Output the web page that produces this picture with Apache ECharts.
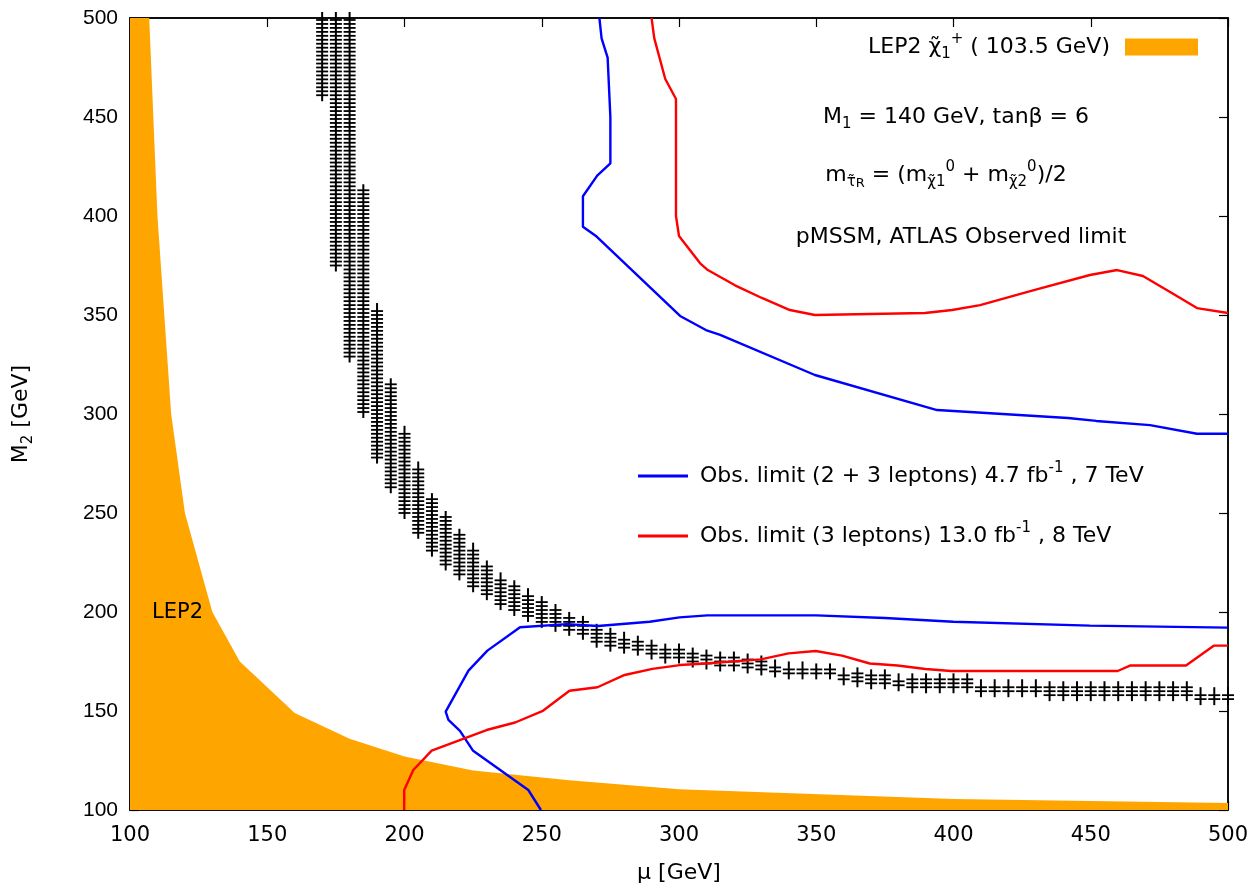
<!DOCTYPE html>
<html>
<head>
<meta charset="utf-8">
<script src="https://cdn.jsdelivr.net/npm/echarts@6/dist/echarts.min.js"></script>
<style>
    html, body { margin: 0; padding: 0; background: #fff; }
    #chart { width: 1255px; height: 888px; }
</style>
</head>
<body>
<div id="chart"></div>
<script>
// LEP2 chargino limit, edge of the excluded region (mu, M2)
var lepMu = [100, 107, 110, 115, 120, 130, 140, 160, 180, 200, 225, 260, 300, 400, 450, 500];
var lepM2 = [500, 500, 400, 300, 250, 200, 175, 149, 136, 127, 120, 115, 110.5, 105.5, 104.5, 103.5];

// Obs. limit 2+3 leptons, 7 TeV (two branches)
var blueUpMu = [271, 271.8, 274, 275, 275, 270.2, 265, 265, 270, 300.4, 309.8, 315, 349.5, 394, 400, 441.7, 452, 471.6, 488.7, 500];
var blueUpM2 = [500, 489.7, 480, 450, 426.6, 420.4, 410, 394.6, 389.6, 349.5, 342.4, 340, 319.7, 302, 301.5, 298, 296.5, 294.4, 290, 290];
var blueLoMu = [249.7, 245.1, 225, 220.2, 216, 215, 223.3, 230.2, 242.1, 259.1, 270.5, 289.3, 300.2, 310.3, 350, 375, 399.9, 449.7, 500];
var blueLoM2 = [100, 110.1, 129.9, 140, 145.5, 149.7, 170.4, 180.5, 192.3, 193.9, 192.9, 195.1, 197.3, 198.3, 198.3, 197, 195.1, 193.1, 192.1];

// Obs. limit 3 leptons, 8 TeV (two branches)
var redUpMu = [290, 291, 295, 298.9, 298.9, 300, 307.7, 310.5, 320.4, 330.2, 340.4, 349.5, 389.6, 399.5, 409.7, 429.3, 449.7, 459.6, 469, 478.9, 488.7, 500];
var redUpM2 = [500, 489.7, 469.2, 459.1, 400, 389.9, 376.1, 372.7, 365, 358.6, 352.5, 350, 351, 352.5, 355, 362.6, 370.2, 372.7, 369.7, 361.6, 353.5, 351];
var redLoMu = [199.9, 199.9, 203.2, 209.9, 229.9, 240.3, 250.2, 260.1, 270.3, 280.2, 290.3, 300.3, 309.6, 329.8, 339.9, 349.8, 359.4, 369.5, 379.6, 389.8, 399.1, 459.8, 464.5, 484.7, 494.8, 500];
var redLoM2 = [100, 110.1, 120.2, 130, 140.4, 144.2, 149.9, 160.2, 162, 168.2, 171.3, 173.2, 174, 176.1, 179.1, 180.3, 178, 174, 173, 171.2, 170.2, 170.2, 173, 173, 183, 183];

// scanned model points: one column per mu, points every bandStep GeV from low to high
var bandStep = 2;
var bandMu = [170, 175, 180, 185, 190, 195, 200, 205, 210, 215, 220, 225, 230, 235, 240, 245, 250, 255, 260, 265,
    270, 275, 280, 285, 290, 295, 300, 305, 310, 315, 320, 325, 330, 335, 340, 345, 350, 355, 360, 365,
    370, 375, 380, 385, 390, 395, 400, 405, 410, 415, 420, 425, 430, 435, 440, 445, 450, 455, 460, 465,
    470, 475, 480, 485, 490, 495, 500];
var bandLow = [461, 375, 329, 301, 278, 263, 250, 240, 231, 224, 219, 213, 209, 204, 201, 198, 195, 193, 191, 189,
    185, 183, 182, 181, 179, 177, 177, 175, 174, 173, 173, 172, 171, 170, 169, 169, 169, 169, 166, 165,
    164, 164, 163, 162, 162, 162, 162, 162, 160, 160, 160, 160, 160, 158, 158, 158, 158, 158, 158, 158,
    158, 158, 158, 158, 156, 156, 156];
var bandHigh = [500, 500, 500, 413, 353, 315, 291, 273, 257, 248, 239, 232, 223, 217, 213, 209, 205, 201, 197, 195,
    191, 189, 187, 185, 183, 181, 181, 179, 178, 177, 177, 176, 175, 173, 172, 172, 171, 171, 169, 169,
    168, 168, 166, 166, 166, 166, 166, 166, 163, 163, 163, 163, 163, 162, 162, 162, 162, 162, 162, 162,
    162, 162, 162, 162, 159, 159, 159];

var font = "'Liberation Sans', Arial, sans-serif";
var wide = "'DejaVu Sans', sans-serif";
var blueName = "Obs. limit (2 + 3 leptons) 4.7 fb-1 , 7 TeV";
var redName = "Obs. limit (3 leptons) 13.0 fb-1 , 8 TeV";
var lepName = "LEP2";

function pairs(xs, ys) {
    return xs.map(function (x, i) { return [x, ys[i]]; });
}

var richText = {
    a: { fontSize: 22, fontFamily: wide, color: "#000", lineHeight: 30 },
    s: { fontSize: 15, fontFamily: wide, color: "#000", lineHeight: 15, verticalAlign: "bottom" },
    ss: { fontSize: 13, fontFamily: wide, color: "#000", lineHeight: 4, verticalAlign: "bottom" },
    p: { fontSize: 15, fontFamily: wide, color: "#000", lineHeight: 18, verticalAlign: "top" },
};

var chart = echarts.init(document.getElementById("chart"));

function axisBase(extra) {
    var base = {
        type: "value",
        min: 100,
        max: 500,
        interval: 50,
        axisLine: { show: true, onZero: false, lineStyle: { color: "#000", width: 1.5 } },
        axisTick: { show: true, inside: true, length: 9, lineStyle: { color: "#000", width: 1.2 } },
        splitLine: { show: false },
        axisLabel: { show: false },
    };
    return Object.assign(base, extra);
}

function lineSeries(name, xs, ys, color) {
    return {
        name: name,
        type: "line",
        data: pairs(xs, ys),
        symbol: "none",
        z: 5,
        color: color,
        lineStyle: { color: color, width: 2.4 },
    };
}

var options = {
    animation: false,
    backgroundColor: "#fff",
    textStyle: { fontFamily: font },
    grid: {
        left: 130,
        right: 27,
        top: 18,
        bottom: 78,
        outerBoundsMode: "none",
        containLabel: false,
        show: true,
        borderColor: "#000",
        borderWidth: 1.5,
    },
    legend: [
        {
            data: [lepName],
            right: 57,
            top: 32,
            padding: 0,
            align: "right",
            icon: "rect",
            itemWidth: 73,
            itemHeight: 17,
            formatter: function () {
                return "{a|LEP2 χ̃}{s|1}{p|+}{a| ( 103.5 GeV)}";
            },
            textStyle: { rich: richText, padding: [0, 10, 0, 0] },
        },
        {
            data: [blueName, redName],
            left: 638,
            top: 461,
            padding: 0,
            orient: "vertical",
            icon: "rect",
            itemWidth: 50,
            itemHeight: 3,
            itemGap: 34,
            formatter: function (name) {
                if (name === blueName) {
                    return "{a|Obs. limit (2 + 3 leptons) 4.7 fb}{p|-1}{a| , 7 TeV}";
                }
                return "{a|Obs. limit (3 leptons) 13.0 fb}{p|-1}{a| , 8 TeV}";
            },
            textStyle: { rich: richText, padding: [0, 0, 0, 7] },
        },
    ],
    xAxis: [
        axisBase({
            position: "bottom",
            name: "μ [GeV]",
            nameLocation: "middle",
            nameGap: 52,
            nameTextStyle: { fontSize: 22, color: "#000", fontFamily: wide },
            axisLabel: {
                show: true,
                fontSize: 21,
                color: "#000",
                margin: 15,
                fontFamily: wide,
            },
        }),
        axisBase({ position: "top" }),
    ],
    yAxis: [
        axisBase({
            position: "left",
            name: "{a|M}{s|2}{a| [GeV]}",
            nameLocation: "middle",
            nameGap: 94,
            nameTextStyle: { rich: richText },
            axisLabel: {
                show: true,
                fontSize: 21,
                color: "#000",
                margin: 12,
                fontFamily: font,
            },
        }),
        axisBase({ position: "right" }),
    ],
    graphic: [
        {
            type: "text",
            z: 100,
            x: 152,
            y: 613,
            style: { text: "LEP2", fill: "#000", font: "21px " + wide, verticalAlign: "middle" },
        },
        {
            type: "text",
            z: 100,
            x: 956,
            y: 117,
            style: {
                text: "{a|M}{s|1}{a| = 140 GeV, tanβ = 6}",
                rich: richText,
                align: "center",
                verticalAlign: "middle",
            },
        },
        {
            type: "text",
            z: 100,
            x: 946,
            y: 175,
            style: {
                text: "{a|m}{s|τ̃}{ss|R}{a| = (m}{s|χ̃1}{p|0}{a| + m}{s|χ̃2}{p|0}{a|)/2}",
                rich: richText,
                align: "center",
                verticalAlign: "middle",
            },
        },
        {
            type: "text",
            z: 100,
            x: 961,
            y: 237,
            style: {
                text: "pMSSM, ATLAS Observed limit",
                fill: "#000",
                font: "22px " + wide,
                align: "center",
                verticalAlign: "middle",
            },
        },
    ],
    series: [
        {
            name: lepName,
            type: "line",
            data: pairs(lepMu, lepM2),
            symbol: "none",
            z: 1,
            color: "#FFA500",
            itemStyle: { color: "#FFA500" },
            lineStyle: { width: 0, color: "#FFA500" },
            areaStyle: { color: "#FFA500", opacity: 1, origin: "start" },
        },
        {
            type: "custom",
            z: 3,
            clip: false,
            encode: { x: 0, y: [1, 2] },
            data: bandMu.map(function (m, i) { return [m, bandLow[i], bandHigh[i]]; }),
            renderItem: function (params, api) {
                var mu = api.value(0);
                var lo = api.value(1);
                var hi = api.value(2);
                var top = api.coord([mu, hi]);
                var bot = api.coord([mu, lo]);
                var kids = [{
                    type: "line",
                    shape: { x1: top[0], y1: top[1] - 6, x2: bot[0], y2: bot[1] + 6 },
                    style: { stroke: "#000", lineWidth: 2 },
                }];
                for (var v = lo; v <= hi + 0.01; v += bandStep) {
                    var p = api.coord([mu, v]);
                    kids.push({
                        type: "line",
                        shape: { x1: p[0] - 6, y1: p[1], x2: p[0] + 6, y2: p[1] },
                        style: { stroke: "#000", lineWidth: 1.8 },
                    });
                }
                return { type: "group", children: kids };
            },
        },
        lineSeries(blueName, blueUpMu, blueUpM2, "#0000FF"),
        lineSeries(blueName, blueLoMu, blueLoM2, "#0000FF"),
        lineSeries(redName, redUpMu, redUpM2, "#FF0000"),
        lineSeries(redName, redLoMu, redLoM2, "#FF0000"),
    ],
};

chart.setOption(options);
</script>
</body>
</html>
